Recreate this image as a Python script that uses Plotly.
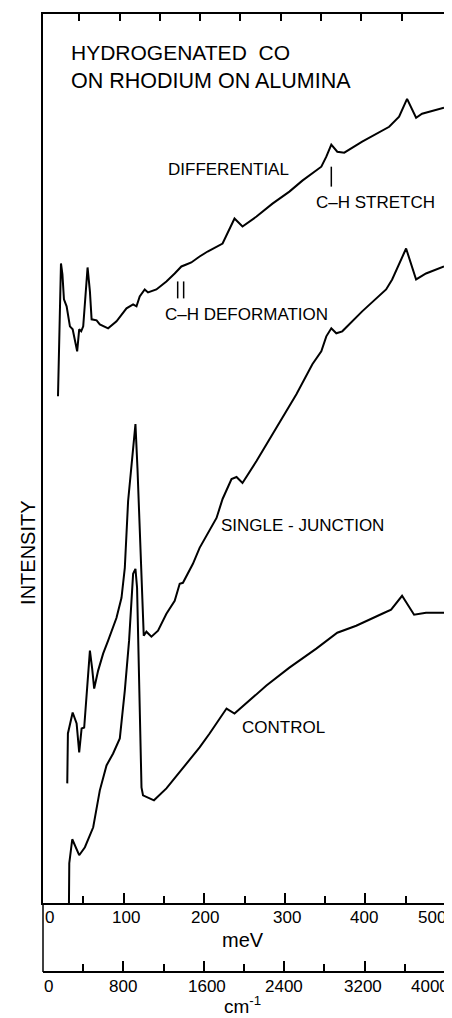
import plotly.graph_objects as go

# ---------------- data (x in meV, intensity in arbitrary units) ----------------
DIFF_MEV = [18.6, 22.3, 24.1, 26.0, 29.3, 33.4, 36.8, 42.4, 44.9, 47.4, 49.9, 55.3, 58.2, 60.3,
            66.5, 70.5, 80.8, 91.2, 103.6, 111.8, 116.0, 120.0, 126.2, 130.3, 140.7, 153.1,
            163.4, 171.7, 177.8, 184.0, 194.3, 204.2, 222.8, 229.0, 237.6, 247.5, 264.9, 284.7,
            305.7, 321.8, 345.3, 351.5, 357.7, 365.1, 373.8, 396.0, 429.5, 441.8, 451.7, 462.9,
            470.3, 497.5]
DIFF_INT = [508, 641, 630, 605, 598, 578, 575, 553, 575, 573, 578, 637, 613, 585,
            584, 580, 576, 583, 596, 600, 598, 608, 615, 612, 615, 623,
            631, 638, 640, 642, 648, 653, 661, 671, 686, 678, 688, 701,
            713, 724, 738, 748, 760, 753, 752, 763, 778, 788, 806, 787,
            791, 797]

SJ_MEV = [30.1, 30.9, 36.8, 41.7, 44.9, 47.9, 51.1, 54.8, 58.2, 61.0, 63.5, 68.4, 74.6, 80.8,
          91.2, 97.4, 101.5, 105.6, 111.8, 114.7, 117.2, 120.0, 123.4, 125.0, 128.3, 134.5,
          142.7, 153.1, 163.4, 169.6, 173.6, 179.8, 186.0, 194.3, 215.3, 222.8, 233.9, 240.1,
          247.5, 264.9, 289.6, 314.4, 334.2, 345.3, 351.5, 357.7, 363.9, 371.3, 396.0, 425.7,
          433.2, 450.5, 462.9, 475.2, 497.5]
SJ_INT = [120, 170, 191, 180, 151, 175, 176, 213, 253, 235, 215, 233, 250, 263,
          286, 306, 336, 403, 460, 480, 436, 370, 303, 268, 272, 267,
          273, 290, 303, 320, 321, 331, 340, 356, 386, 405, 425, 427,
          421, 443, 476, 510, 540, 553, 568, 576, 571, 573, 593, 615,
          625, 656, 625, 631, 638]

CTRL_MEV = [32.2, 32.6, 36.3, 44.9, 52.0, 62.3, 70.5, 78.8, 87.0, 95.3, 101.5, 106.8, 111.8,
            114.7, 116.7, 118.4, 122.2, 124.1, 130.3, 137.7, 153.1, 173.6, 181.9, 194.3, 206.7,
            227.7, 237.6, 256.2, 277.2, 305.7, 339.1, 365.1, 388.6, 420.8, 431.9, 445.5, 460.4,
            475.2, 500.0]
CTRL_INT = [0, 40, 64, 48, 56, 76, 113, 138, 150, 165, 213, 263, 330,
            335, 316, 253, 116, 108, 106, 103, 115, 135, 143, 156, 170,
            195, 190, 203, 218, 236, 255, 271, 278, 290, 294, 308, 289,
            291, 291]

MEV_TICKS = [0, 100, 200, 300, 400, 500]
MEV_MINOR = [50, 150, 250, 350, 450]
MEV_TOP_TICKS = [45, 95, 145, 195, 245, 295, 345, 395, 445]
CM_TICKS = [0, 800, 1600, 2400, 3200, 4000]
CM_MINOR = [400, 1200, 2000, 2800, 3600]
MEV_LABELS = ["0", "100", "200", "300", "400", "500"]
CM_LABELS = ["0", "800", "1600", "2400", "3200", "4000"]

FONT = "Liberation Sans"
LINE = dict(color="black", width=2)

fig = go.Figure()
for xs, ys, name in [(DIFF_MEV, DIFF_INT, "Differential"),
                     (SJ_MEV, SJ_INT, "Single-junction"),
                     (CTRL_MEV, CTRL_INT, "Control")]:
    fig.add_trace(go.Scatter(x=xs, y=ys, mode="lines", line=LINE, name=name,
                             showlegend=False, hoverinfo="skip"))

# helper traces so the extra axes are drawn
fig.add_trace(go.Scatter(x=[0, 4000], y=[None, None], xaxis="x2", yaxis="y",
                         showlegend=False, hoverinfo="skip"))
fig.add_trace(go.Scatter(x=[0, 500], y=[None, None], xaxis="x3", yaxis="y",
                         showlegend=False, hoverinfo="skip"))

YDOM0 = 0.0719

# the page body adds an 8px margin, so the figure is 8px smaller on the top/left
fig.update_layout(
    width=444, height=1010,
    margin=dict(l=35, r=5, t=4, b=46),
    paper_bgcolor="white", plot_bgcolor="white",
    font=dict(family=FONT, color="black", size=17),
    xaxis=dict(range=[0, 500], domain=[0, 1], anchor="y", showgrid=False, zeroline=False,
               showline=True, linecolor="black", linewidth=1.5, mirror=True,
               ticks="inside", tickvals=MEV_TICKS, ticklen=10, tickwidth=1.5, tickcolor="black",
               showticklabels=False,
               minor=dict(tickvals=MEV_MINOR, ticks="inside", ticklen=7, tickwidth=1.5,
                          tickcolor="black", showgrid=False)),
    xaxis3=dict(range=[0, 500], overlaying="x", anchor="y", side="top", showgrid=False,
                zeroline=False, showline=False, ticks="inside", tickvals=MEV_TOP_TICKS,
                ticklen=7, tickwidth=1.5, tickcolor="black", showticklabels=False),
    xaxis2=dict(range=[0, 4010], overlaying="x", anchor="free", position=0, side="bottom",
                showgrid=False, zeroline=False, showline=True, linecolor="black", linewidth=1.5,
                ticks="inside", tickvals=CM_TICKS, ticklen=10, tickwidth=1.5, tickcolor="black",
                showticklabels=False,
                minor=dict(tickvals=CM_MINOR, ticks="inside", ticklen=7, tickwidth=1.5,
                           tickcolor="black", showgrid=False)),
    yaxis=dict(range=[0, 891], domain=[YDOM0, 1], showgrid=False, zeroline=False,
               showline=True, linecolor="black", linewidth=1.5, mirror=True,
               ticks="", showticklabels=False),
)

ann = []
# tick labels
mev_shift = [6, 2, 1, 2, -1, -14]
for v, t, s in zip(MEV_TICKS, MEV_LABELS, mev_shift):
    ann.append(dict(x=v, y=0.0573, xref="x", yref="paper", text=t, showarrow=False,
                    xshift=s, font=dict(size=17), xanchor="center", yanchor="middle"))
cm_shift = [5, 0, 3, 0, -2, -15]
for v, t, s in zip(CM_TICKS, CM_LABELS, cm_shift):
    ann.append(dict(x=v, y=-0.0156, xref="x2", yref="paper", text=t, showarrow=False,
                    xshift=s, font=dict(size=17), xanchor="center", yanchor="middle"))
ann.append(dict(x=(243 - 43) / 404, y=0.0333, xref="paper", yref="paper", text="meV",
                showarrow=False, font=dict(size=20), yanchor="middle"))
ann.append(dict(x=(243 - 43) / 404, y=-0.034, xref="paper", yref="paper",
                text="cm<sup>-1</sup>", showarrow=False, font=dict(size=19), yanchor="middle"))
ann.append(dict(x=(28 - 43) / 404, y=(972 - 552) / 960, xref="paper", yref="paper",
                text="INTENSITY", textangle=-90, showarrow=False, font=dict(size=20),
                xanchor="center", yanchor="middle"))

# text labels in the plot (data coordinates)
ann.append(dict(x=32.5, y=852, xref="x", yref="y", text="HYDROGENATED  CO", showarrow=False,
                xanchor="left", yanchor="middle", font=dict(size=21)))
ann.append(dict(x=32.5, y=824, xref="x", yref="y", text="ON RHODIUM ON ALUMINA",
                showarrow=False, xanchor="left", yanchor="middle", font=dict(size=21.5)))
for x, y, t in [(230.2, 735, "DIFFERENTIAL"), (412, 702, "C–H STRETCH"),
                (253, 590, "C–H DEFORMATION"), (322.4, 378, "SINGLE - JUNCTION"),
                (298.3, 176, "CONTROL")]:
    ann.append(dict(x=x, y=y, xref="x", yref="y", text=t, showarrow=False,
                    xanchor="center", yanchor="middle", font=dict(size=17)))
fig.update_layout(annotations=ann)

shapes = []
# band marker lines
for x, y0, y1 in [(357.7, 718, 738), (167.1, 606, 623), (174.5, 606, 623)]:
    shapes.append(dict(type="line", xref="x", yref="y", x0=x, x1=x, y0=y0, y1=y1,
                       line=dict(color="black", width=1.5)))
# left connector between the two axes
shapes.append(dict(type="line", xref="paper", yref="paper", x0=0, x1=0, y0=0, y1=YDOM0,
                   line=dict(color="black", width=1.5)))
fig.update_layout(shapes=shapes)

fig.write_html("out.html")
